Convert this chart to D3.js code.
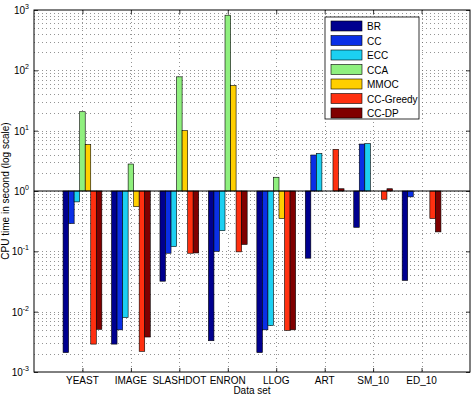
<!DOCTYPE html>
<html>
<head>
<meta charset="utf-8">
<script src="https://cdn.jsdelivr.net/npm/d3@7"></script>
<style>
  body { margin: 0; background: #fff; overflow: hidden; }
  text { font-family: "Liberation Sans", Arial, sans-serif; }
</style>
</head>
<body>
<div id="chart"></div>
<script>
// data (CPU time in seconds, null = not shown)
let datasets = ["YEAST", "IMAGE", "SLASHDOT", "ENRON", "LLOG", "ART", "SM_10", "ED_10"];
let methods = ["BR", "CC", "ECC", "CCA", "MMOC", "CC-Greedy", "CC-DP"];
let colors = ["#00008f", "#0a2fe6", "#1cd0f2", "#8ff07e", "#ffcf00", "#ff3010", "#800000"];

let brTime      = [0.0021, 0.0029, 0.032, 0.0033, 0.0021, 0.077, 0.25, 0.033];
let ccTime      = [0.29, 0.0050, 0.093, 0.10, 0.0050, 3.95, 6.0, 0.80];
let eccTime     = [0.66, 0.0080, 0.12, 0.22, 0.0059, 4.2, 6.1, null];
let ccaTime     = [20.6, 2.8, 78, 820, 1.69, null, null, null];
let mmocTime    = [5.9, 0.55, 10.0, 56, 0.35, null, null, null];
let greedyTime  = [0.0029, 0.0022, 0.093, 0.098, 0.0049, 4.9, 0.73, 0.35];
let dpTime      = [0.0051, 0.0038, 0.094, 0.13, 0.0050, 1.09, 1.09, 0.21];

let seriesValues = [brTime, ccTime, eccTime, ccaTime, mmocTime, greedyTime, dpTime];
let yTicks = [1e-3, 1e-2, 1e-1, 1e0, 1e1, 1e2, 1e3];

let W = 476, H = 396;
let plot = {left: 34, right: 470, top: 10, bottom: 372};

let svg = d3.select("#chart").append("svg")
    .attr("width", W)
    .attr("height", H);

// scales
let x = d3.scalePoint()
    .domain(datasets)
    .range([plot.left, plot.right])
    .padding(1);
let step = x.step();
let x1 = d3.scaleBand()
    .domain(methods)
    .range([-0.4 * step, 0.4 * step]);
let y = d3.scaleLog()
    .domain([1e-3, 1e3])
    .range([plot.bottom, plot.top]);

// grid: minor + major horizontal, vertical at categories
let gridG = svg.append("g").attr("class", "grid");
let minor = [];
for (let e = -3; e < 3; e++) {
    for (let m = 1; m < 10; m++) minor.push(m * Math.pow(10, e));
}
gridG.selectAll("line.h")
    .data(minor.filter(v => v > 1e-3 && v < 1e3))
    .enter().append("line")
    .attr("x1", plot.left).attr("x2", plot.right)
    .attr("y1", d => Math.round(y(d)) + 0.5).attr("y2", d => Math.round(y(d)) + 0.5)
    .attr("stroke", "#666")
    .attr("stroke-width", 0.7)
    .attr("stroke-dasharray", "1,3");
gridG.selectAll("line.v")
    .data(datasets)
    .enter().append("line")
    .attr("x1", d => Math.round(x(d)) + 0.5).attr("x2", d => Math.round(x(d)) + 0.5)
    .attr("y1", plot.top).attr("y2", plot.bottom)
    .attr("stroke", "#666")
    .attr("stroke-width", 0.7)
    .attr("stroke-dasharray", "1,3");

// bars
let barData = [];
datasets.forEach((ds, i) => {
    methods.forEach((m, j) => {
        let v = seriesValues[j][i];
        if (v !== null) barData.push({ds: ds, method: m, value: v, color: colors[j]});
    });
});

svg.append("g").selectAll("rect")
    .data(barData)
    .enter().append("rect")
    .attr("x", d => x(d.ds) + x1(d.method))
    .attr("width", x1.bandwidth())
    .attr("y", d => Math.min(y(d.value), y(1)))
    .attr("height", d => Math.abs(y(d.value) - y(1)))
    .attr("fill", d => d.color)
    .attr("stroke", "#000")
    .attr("stroke-width", 0.6);

// baseline at 10^0
svg.append("line")
    .attr("x1", plot.left).attr("x2", plot.right)
    .attr("y1", y(1)).attr("y2", y(1))
    .attr("stroke", "#000")
    .attr("stroke-width", 1);

// axes (MATLAB style, ticks inside)
let yAxis = svg.append("g")
    .attr("transform", `translate(${plot.left},0)`)
    .call(d3.axisRight(y).tickValues(yTicks).tickSize(4).tickFormat(""));
let yAxisR = svg.append("g")
    .attr("transform", `translate(${plot.right},0)`)
    .call(d3.axisLeft(y).tickValues(yTicks).tickSize(4).tickFormat(""));
let xAxis = svg.append("g")
    .attr("transform", `translate(0,${plot.bottom})`)
    .call(d3.axisTop(x).tickSize(4).tickFormat(""));
let xAxisT = svg.append("g")
    .attr("transform", `translate(0,${plot.top})`)
    .call(d3.axisBottom(x).tickSize(4).tickFormat(""));
[yAxis, yAxisR, xAxis, xAxisT].forEach(g => {
    g.select(".domain").remove();
    g.selectAll("line").attr("stroke", "#000").attr("stroke-width", 0.8);
});

// plot box
svg.append("rect")
    .attr("x", plot.left).attr("y", plot.top)
    .attr("width", plot.right - plot.left)
    .attr("height", plot.bottom - plot.top)
    .attr("fill", "none")
    .attr("stroke", "#000")
    .attr("stroke-width", 1);

// y tick labels 10^n
let yLab = svg.append("g").selectAll("text")
    .data(yTicks)
    .enter().append("text")
    .attr("x", plot.left - 5)
    .attr("y", d => y(d) + 4)
    .attr("text-anchor", "end")
    .attr("font-size", 10)
    .attr("fill", "#000");
yLab.append("tspan").text("10");
yLab.append("tspan")
    .attr("dy", -5)
    .attr("font-size", 7)
    .text(d => Math.round(Math.log10(d)));

// x tick labels
svg.append("g").selectAll("text")
    .data(datasets)
    .enter().append("text")
    .attr("x", d => x(d))
    .attr("y", plot.bottom + 12)
    .attr("text-anchor", "middle")
    .attr("font-size", 10)
    .attr("fill", "#000")
    .text(d => d);

// axis titles
svg.append("text")
    .attr("x", (plot.left + plot.right) / 2)
    .attr("y", 394)
    .attr("text-anchor", "middle")
    .attr("font-size", 10)
    .text("Data set");
svg.append("text")
    .attr("transform", `translate(9,${(plot.top + plot.bottom) / 2}) rotate(-90)`)
    .attr("text-anchor", "middle")
    .attr("font-size", 10)
    .text("CPU time in second (log scale)");

// legend
let legend = svg.append("g").attr("transform", "translate(325,17)");
legend.append("rect")
    .attr("width", 94).attr("height", 102)
    .attr("fill", "#fff")
    .attr("stroke", "#000")
    .attr("stroke-width", 0.8);
methods.forEach((m, j) => {
    let row = legend.append("g").attr("transform", `translate(6,${9 + j * 14.5})`);
    row.append("rect")
        .attr("width", 31).attr("height", 10)
        .attr("y", -5)
        .attr("fill", colors[j])
        .attr("stroke", "#000")
        .attr("stroke-width", 0.6);
    row.append("text")
        .attr("x", 36).attr("y", 4)
        .attr("font-size", 10)
        .text(m);
});
</script>
</body>
</html>
